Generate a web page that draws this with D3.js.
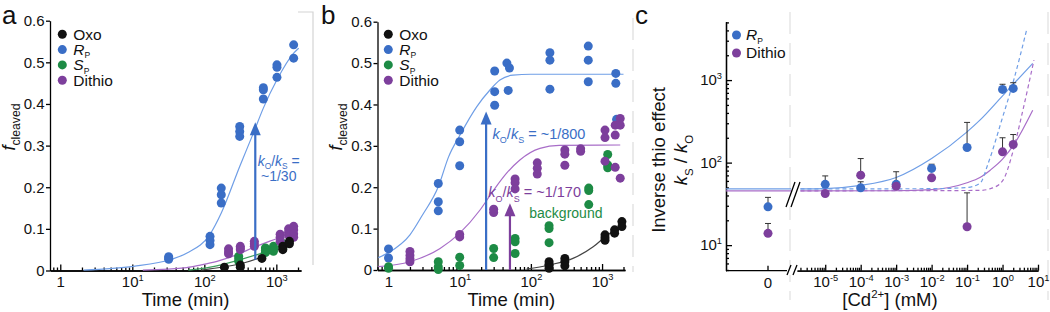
<!DOCTYPE html>
<html>
<head>
<meta charset="utf-8">
<script src="https://cdnjs.cloudflare.com/ajax/libs/d3/7.8.5/d3.min.js"></script>
<style>
body{margin:0;background:#fff}
svg{display:block;font-family:"Liberation Sans",Arial,sans-serif}
.axis path,.axis line{stroke:#000;stroke-width:1.3}
.axis text{font-size:15px;fill:#111;font-family:"Liberation Sans",Arial,sans-serif}
</style>
</head>
<body>
<script>
// ---------- panel a : time (min) vs fraction cleaved ----------
const aOxo = [[190,0.008],[316,0.013],[316,0.008],[630,0.029],[1230,0.058],[1230,0.05],[1520,0.07],[1520,0.064]];
const aRp = [[32,0.033],[32,0.03],[32,0.027],[120,0.082],[120,0.072],[120,0.062],[172,0.198],[172,0.182],[172,0.162],
  [310,0.346],[310,0.334],[310,0.322],[660,0.439],[660,0.434],[660,0.412],[1020,0.494],[1020,0.488],[1020,0.464],[1740,0.542],[1740,0.51]];
const aSp = [[300,0.034],[300,0.028],[300,0.022],[705,0.054],[705,0.048],[705,0.043],[912,0.058],[912,0.052],[912,0.046],
  [1230,0.065],[1230,0.058],[1230,0.052]];
const aDithio = [[217,0.052],[217,0.045],[217,0.04],[316,0.058],[316,0.054],[316,0.05],[495,0.07],[495,0.064],[495,0.058],
  [1130,0.087],[1130,0.08],[1130,0.07],[1480,0.1],[1480,0.092],[1480,0.085],[1740,0.106],[1740,0.098],[1740,0.088],[1740,0.08]];
const aRpFit = [[2.1,0.001],[10.4,0.01],[35,0.027],[57.5,0.042],[120,0.087],[172,0.138],[310,0.25],[480,0.33],[660,0.39],[1020,0.458],[1740,0.522],[2040,0.534]];
const aDithioFit = [[14,0.001],[57,0.007],[88,0.013],[150,0.022],[256,0.035],[510,0.057],[1130,0.08],[2000,0.097]];
const aSpFit = [[60,0.001],[121,0.008],[316,0.026],[750,0.046],[1400,0.062]];
const aOxoFit = [[90,0.001],[121,0.004],[350,0.018],[660,0.034],[1400,0.062]];
const aArrow = [510, 0.026, 0.356];
const aNote = [1080, 0.252, 0.216];

// ---------- panel b ----------
const bOxo = [[180,0.02],[180,0.014],[180,0.01],[180,0.004],[300,0.028],[300,0.02],[300,0.01],
  [1100,0.085],[1100,0.078],[1100,0.072],[1500,0.097],[1500,0.089],[1900,0.117],[1900,0.105]];
const bRp = [[1,0.051],[1,0.029],[5,0.209],[5,0.165],[5,0.143],[10,0.338],[10,0.31],[10,0.252],
  [31,0.481],[31,0.431],[31,0.398],[46,0.5],[50,0.488],[48,0.434],[185,0.525],[185,0.507],[185,0.437],
  [640,0.541],[640,0.507],[640,0.455],[1560,0.475],[1560,0.451],[1600,0.364]];
const bSp = [[1,0.008],[1,0.004],[5,0.02],[5,0.008],[5,0.001],[10,0.031],[10,0.011],[30,0.052],[30,0.03],
  [60,0.076],[60,0.068],[60,0.04],[180,0.107],[180,0.1],[180,0.066],[650,0.198],[650,0.192],[650,0.158],
  [1200,0.279],[1200,0.254],[1200,0.247]];
const bDithio = [[2,0.045],[2,0.035],[2,0.027],[2,0.02],[10,0.086],[10,0.08],[30,0.147],[30,0.139],
  [60,0.22],[60,0.211],[60,0.196],[123,0.259],[123,0.246],[123,0.232],[300,0.29],[300,0.28],[300,0.253],
  [500,0.293],[500,0.287],[1100,0.338],[1100,0.32],[1100,0.263],[1530,0.35],[1530,0.326],[1530,0.248],
  [1800,0.366],[1800,0.35],[1800,0.222]];
const bRpFit = [[0.72,0.03],[1,0.042],[2,0.085],[3,0.133],[5,0.201],[7,0.274],[10,0.325],[17.4,0.395],
  [26.6,0.435],[36.7,0.459],[56,0.471],[100,0.473],[2000,0.473]];
const bDithioFit = [[0.72,0.008],[2,0.02],[5.3,0.052],[10,0.089],[19.3,0.145],[30,0.193],[45.6,0.234],
  [70,0.266],[134,0.294],[250,0.301],[1800,0.302]];
const bOxoFit = [[87,0.002],[180,0.012],[390,0.028],[750,0.056],[1100,0.08],[1850,0.109]];
const bArrowRp = [23.5, 0, 0.383];
const bArrowDi = [50.8, 0, 0.161];
const bNoteRp = [29, 0.317];
const bNoteDi = [25.1, 0.176];
const bNoteBg = [95, 0.126];

// ---------- panel c : [Cd2+] (mM) vs kS/kO ----------
const cConc = [1e-5, 1e-4, 1e-3, 1e-2, 1e-1, 1, 2];
const cRp = [54.5, 49.5, 54.5, 85, 152.6, 771, 793];
const cRpErr = [69, 58.6, 77.5, 95.6, 307, 890, 930];
const cDithio = [42.3, 70.5, 51.8, 65.4, 16.7, 135, 166];
const cDithioErr = [45, 112, 55, 68, 43, 200, 219];
const cZeroRp = [29.1, 37.9];
const cZeroDithio = [13.9, 18.3];
const cBaseRp = 48, cBaseDithio = 45.5;
const cRpSolid = [[2e-6,48],[1e-5,48.5],[1e-4,53],[1e-3,66],[1e-2,112],[0.1,236],[0.23,327],[1,645],[2,890],[7.1,1590]];
const cRpDashed = [[2e-6,48],[0.01,48.3],[0.1,50],[0.23,56],[0.4,100],[0.95,328],[2,950],[4.9,4240]];
const cDithioSolid = [[2e-6,45.5],[1e-3,45.6],[1e-2,47],[0.1,57],[0.23,66],[0.45,81],[1,110],[2.2,171],[7.1,430]];
const cDithioDashed = [[2e-6,45.5],[0.23,46],[0.5,49],[1,60],[2,140],[3.6,400],[7.7,1750]];

// tick labels
const tickAB = [0, 0.1, 0.2, 0.3, 0.4, 0.5, 0.6];
const timeMajor = [1, 10, 100, 1000];
const cdMajor = [1e-5, 1e-4, 1e-3, 1e-2, 1e-1, 1, 10];
const ksMajor = [10, 100, 1000];
const legendAB = [[["Oxo"]], [["R","i"],["P","sub"]], [["S","i"],["P","sub"]], [["Dithio"]]];
const legendC = [[["R","i"],["P","sub"]], [["Dithio"]]];

const colOxo = "#111111", colRp = "#3a6ec6", colSp = "#1d8b45", colDi = "#7d3f9c";
const fitRp = "#6f9ee6", fitDi = "#a86dc8", fitSp = "#3c9c5c", fitOxo = "#444444";

const svg = d3.select("body").append("svg").attr("width", 1050).attr("height", 312);

// text with italic / sub / sup parts
function rich(text, parts, size, subScale, subShift) {
  let shift = 0;
  const sc = subScale || 0.62;
  const sh = subShift || 0.3;
  parts.forEach(p => {
    const kind = p[1] || "";
    const ts = text.append("tspan").text(p[0]);
    let target = 0;
    if (kind === "sub") target = size * sh;
    if (kind === "sup") target = -size * 0.42;
    if (target !== shift) { ts.attr("dy", target - shift); shift = target; }
    if (kind === "sub" || kind === "sup") ts.attr("font-size", size * sc);
    if (kind === "i") ts.attr("font-style", "italic");
  });
  return text;
}

function minorTicks(lo, hi) {
  const out = [];
  for (let e = Math.floor(Math.log10(lo)); e <= Math.ceil(Math.log10(hi)); e++)
    for (let k = 2; k <= 9; k++) {
      const v = k * Math.pow(10, e);
      if (v >= lo && v <= hi) out.push(v);
    }
  return out;
}

function powLabel(sel, kind) {
  sel.each(function(d) {
    const e = Math.round(Math.log10(d));
    const t = d3.select(this).text(null);
    rich(t, e === 0 && kind === "time" ? [["1"]] : [["10"], [String(e), "sup"]], 15, 0.62);
  });
}

function dots(g, data, x, y, color) {
  g.append("g").selectAll("circle").data(data).join("circle")
    .attr("cx", d => x(d[0])).attr("cy", d => y(d[1])).attr("r", 4.5).attr("fill", color);
}

function fitLine(g, data, x, y, color, dash) {
  g.append("path").datum(data)
    .attr("d", d3.line().x(d => x(d[0])).y(d => y(d[1])).curve(d3.curveMonotoneX))
    .attr("fill", "none").attr("stroke", color).attr("stroke-width", 1.2)
    .attr("stroke-dasharray", dash || null);
}

function arrow(g, xp, yFrom, yTip, color) {
  g.append("line").attr("x1", xp).attr("x2", xp).attr("y1", yFrom).attr("y2", yTip + 10)
    .attr("stroke", color).attr("stroke-width", 2.2);
  g.append("path").attr("d", `M${xp-5.5},${yTip+13}L${xp},${yTip}L${xp+5.5},${yTip+13}Z`).attr("fill", color);
}

function timePanel(x, y, sets, fits, legendX, labelX) {
  const g = svg.append("g");
  const y0 = y(0);
  g.append("g").attr("class", "axis").attr("transform", `translate(0,${y0})`)
    .call(d3.axisBottom(x).tickValues(minorTicks(...x.domain())).tickSize(-3).tickSizeOuter(0).tickFormat(""));
  const xa = g.append("g").attr("class", "axis").attr("transform", `translate(0,${y0})`)
    .call(d3.axisBottom(x).tickValues(timeMajor).tickSize(-6).tickSizeOuter(0).tickPadding(6).tickFormat(""));
  powLabel(xa.selectAll(".tick text"), "time");
  g.append("g").attr("class", "axis").attr("transform", `translate(${x.range()[0]},0)`)
    .call(d3.axisLeft(y).tickValues(tickAB).tickSize(4).tickPadding(1.5).tickSizeOuter(0)
      .tickFormat(d => d === 0 ? "0" : d.toFixed(1)));
  fits.forEach(f => fitLine(g, f[0], x, y, f[1]));
  sets.forEach(s => dots(g, s[0], x, y, s[1]));
  const cols = [colOxo, colRp, colSp, colDi];
  legendAB.forEach((p, i) => {
    const cy = 34.3 + i * 15.3;
    g.append("circle").attr("cx", legendX).attr("cy", cy).attr("r", 4.5).attr("fill", cols[i]);
    rich(g.append("text").attr("x", legendX + 11).attr("y", cy + 5.4).attr("font-size", 15.5).attr("fill", "#111"), p, 15.5, 0.55, 0.22);
  });
  g.append("text").attr("x", d3.mean(x.range()) + 10).attr("y", 306).attr("text-anchor", "middle")
    .attr("font-size", 18.5).attr("fill", "#111").text("Time (min)");
  rich(g.append("text").attr("transform", `translate(${labelX},127) rotate(-90)`).attr("text-anchor", "middle")
    .attr("font-size", 18).attr("fill", "#111"), [["f","i"],["cleaved","sub"]], 18, 0.68);
  return g;
}

// ---------- panel a ----------
const xA = d3.scaleLog().domain([0.72, 2200]).range([50, 301]);
const yA = d3.scaleLinear().domain([0, 0.6]).range([270.5, 20.7]);
svg.append("path").attr("d", "M298,12H313V265").attr("fill", "none").attr("stroke", "#d4d4d4").attr("stroke-width", 1.2);
const gA = timePanel(xA, yA,
  [[aRp, colRp], [aSp, colSp], [aDithio, colDi], [aOxo, colOxo]],
  [[aOxoFit, fitOxo], [aSpFit, fitSp], [aDithioFit, fitDi], [aRpFit, fitRp]], 62.3, 15);
arrow(gA, xA(aArrow[0]), yA(aArrow[1]), yA(aArrow[2]), colRp);
rich(gA.append("text").attr("x", xA(aNote[0])).attr("y", yA(aNote[1])).attr("text-anchor", "middle")
  .attr("font-size", 14).attr("fill", colRp), [["k","i"],["O","sub"],["/"],["k","i"],["S","sub"],[" ="]], 14, 0.6, 0.25);
gA.append("text").attr("x", xA(aNote[0])).attr("y", yA(aNote[2])).attr("text-anchor", "middle")
  .attr("font-size", 14).attr("fill", colRp).text("~1/30");

// ---------- panel b ----------
const xB = d3.scaleLog().domain([0.7, 2100]).range([377.5, 625]);
const yB = d3.scaleLinear().domain([0, 0.6]).range([270, 21.7]);
svg.append("line").attr("x1", 633).attr("x2", 633).attr("y1", 18).attr("y2", 272)
  .attr("stroke", "#dcdcdc").attr("stroke-width", 1.2).attr("stroke-dasharray", "22,9");
const gB = timePanel(xB, yB,
  [[bRp, colRp], [bSp, colSp], [bDithio, colDi], [bOxo, colOxo]],
  [[bOxoFit, fitOxo], [bDithioFit, fitDi], [bRpFit, fitRp]], 388.3, 342);
arrow(gB, xB(bArrowRp[0]), yB(bArrowRp[1]), yB(bArrowRp[2]), colRp);
arrow(gB, xB(bArrowDi[0]), yB(bArrowDi[1]), yB(bArrowDi[2]), colDi);
rich(gB.append("text").attr("x", xB(bNoteRp[0])).attr("y", yB(bNoteRp[1])).attr("font-size", 14.5).attr("fill", colRp),
  [["k","i"],["O","sub"],["/"],["k","i"],["S","sub"],[" = ~1/800"]], 14.5);
rich(gB.append("text").attr("x", xB(bNoteDi[0])).attr("y", yB(bNoteDi[1])).attr("font-size", 14.5).attr("fill", colDi),
  [["k","i"],["O","sub"],["/"],["k","i"],["S","sub"],[" = ~1/170"]], 14.5);
gB.append("text").attr("x", xB(bNoteBg[0])).attr("y", yB(bNoteBg[1])).attr("font-size", 14).attr("fill", colSp).text("background");

// ---------- panel c ----------
const xC = d3.scaleLog().domain([1.6e-6, 10]).range([797, 1038]);
const xC0 = d3.scaleLinear().domain([-2, 1]).range([726, 789]);
const yC = d3.scaleLog().domain([4.9, 5100]).range([270.7, 21.7]);
const gC = svg.append("g");
[790, 1048].forEach(xp => gC.append("line").attr("x1", xp).attr("x2", xp).attr("y1", 12).attr("y2", 300)
  .attr("stroke", "#e0e0e0").attr("stroke-width", 1.2).attr("stroke-dasharray", "22,9"));

gC.append("g").attr("class", "axis").attr("transform", "translate(726,0)")
  .call(d3.axisLeft(yC).tickValues(minorTicks(...yC.domain())).tickSize(-3).tickSizeOuter(0).tickFormat(""));
const yaC = gC.append("g").attr("class", "axis").attr("transform", "translate(726,0)")
  .call(d3.axisLeft(yC).tickValues(ksMajor).tickSize(-6).tickPadding(4).tickSizeOuter(0).tickFormat(""));
powLabel(yaC.selectAll(".tick text"), "ks");

const yBase = yC.range()[0];
gC.append("path").attr("d", `M726,${yBase}H787`).attr("stroke", "#000").attr("stroke-width", 1.3);
gC.append("line").attr("x1", xC0(0)).attr("x2", xC0(0)).attr("y1", yBase).attr("y2", yBase - 5)
  .attr("stroke", "#000").attr("stroke-width", 1.3);
gC.append("text").attr("x", xC0(0)).attr("y", yBase + 17).attr("text-anchor", "middle")
  .attr("font-size", 15).attr("fill", "#111").text("0");
gC.append("g").attr("class", "axis").attr("transform", `translate(0,${yBase})`)
  .call(d3.axisBottom(xC).tickValues(minorTicks(...xC.domain())).tickSize(-3).tickSizeOuter(0).tickFormat(""));
const xaC = gC.append("g").attr("class", "axis").attr("transform", `translate(0,${yBase})`)
  .call(d3.axisBottom(xC).tickValues(cdMajor).tickSize(-6).tickPadding(6).tickSizeOuter(0).tickFormat(""));
powLabel(xaC.selectAll(".tick text"), "cd");

// flat fits left of the break, then fitted curves
fitLine(gC, [[-2, cBaseDithio], [1.1, cBaseDithio]], xC0, yC, fitDi);
fitLine(gC, [[-2, cBaseRp], [1.1, cBaseRp]], xC0, yC, fitRp);
fitLine(gC, cDithioSolid, xC, yC, fitDi);
fitLine(gC, cRpSolid, xC, yC, fitRp);
fitLine(gC, cDithioDashed, xC, yC, fitDi, "4,3");
fitLine(gC, cRpDashed, xC, yC, fitRp, "4,3");

// axis breaks
gC.append("path").attr("d", "M786,207L795,182L800,182L791,207Z").attr("fill", "#fff");
gC.append("path").attr("d", "M786,207L795,182M791,207L800,182").attr("stroke", "#000").attr("stroke-width", 1.3);
gC.append("path").attr("d", "M787,275L791,265L797,265L793,275Z").attr("fill", "#fff");
gC.append("path").attr("d", "M787,275L791,265M793,275L797,265").attr("stroke", "#000").attr("stroke-width", 1.3);

// error bars (upper only, capped)
function errBars(xs, vals, tops, xsc) {
  vals.forEach((v, i) => {
    const xp = xsc(xs[i]);
    gC.append("line").attr("x1", xp).attr("x2", xp).attr("y1", yC(v)).attr("y2", yC(tops[i])).attr("stroke", "#333").attr("stroke-width", 1);
    gC.append("line").attr("x1", xp - 3).attr("x2", xp + 3).attr("y1", yC(tops[i])).attr("y2", yC(tops[i])).attr("stroke", "#333").attr("stroke-width", 1);
  });
}
errBars(cConc, cRp, cRpErr, xC);
errBars(cConc, cDithio, cDithioErr, xC);
errBars([0], [cZeroRp[0]], [cZeroRp[1]], xC0);
errBars([0], [cZeroDithio[0]], [cZeroDithio[1]], xC0);
dots(gC, cConc.map((c, i) => [c, cRp[i]]), xC, yC, colRp);
dots(gC, cConc.map((c, i) => [c, cDithio[i]]), xC, yC, colDi);
dots(gC, [[0, cZeroRp[0]]], xC0, yC, colRp);
dots(gC, [[0, cZeroDithio[0]]], xC0, yC, colDi);

[colRp, colDi].forEach((c, i) => {
  const cy = 35 + i * 18;
  gC.append("circle").attr("cx", 736.5).attr("cy", cy).attr("r", 4.5).attr("fill", c);
  rich(gC.append("text").attr("x", 746).attr("y", cy + 5.4).attr("font-size", 15.5).attr("fill", "#111"), legendC[i], 15.5, 0.55, 0.22);
});

gC.append("text").attr("transform", "translate(665,160) rotate(-90)").attr("text-anchor", "middle")
  .attr("font-size", 18.5).attr("fill", "#111").text("Inverse thio effect");
rich(gC.append("text").attr("transform", "translate(687,160) rotate(-90)").attr("text-anchor", "middle")
  .attr("font-size", 18.5).attr("fill", "#111"), [["k","i"],["S","sub"],[" / "],["k","i"],["O","sub"]], 18.5);
rich(gC.append("text").attr("x", 890).attr("y", 306).attr("text-anchor", "middle").attr("font-size", 18.5).attr("fill", "#111"),
  [["[Cd"],["2+","sup"],["] (mM)"]], 18.5);

// panel letters
[["a", 2], ["b", 321], ["c", 635]].forEach(l => svg.append("text").attr("x", l[1]).attr("y", 24)
  .attr("font-size", 26).attr("fill", "#111").text(l[0]));
</script>
</body>
</html>
